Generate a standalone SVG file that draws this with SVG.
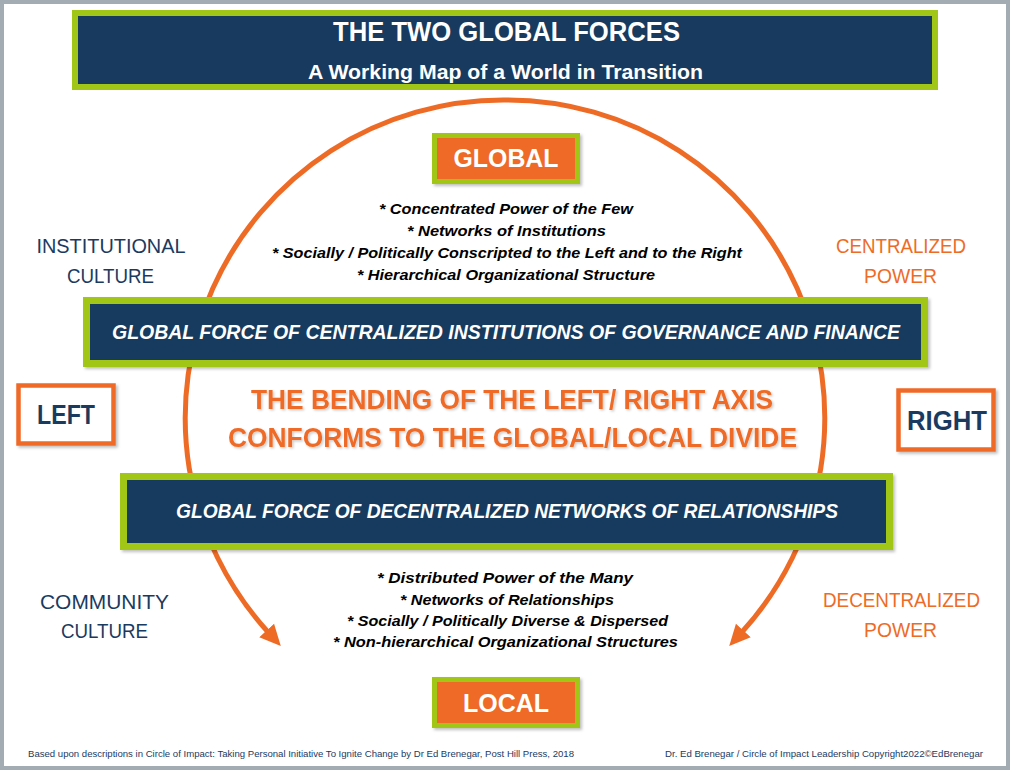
<svg xmlns="http://www.w3.org/2000/svg" width="1012" height="772" viewBox="0 0 1012 772">
  <defs>
    <style>
      .navybox { fill: #173A5E; stroke: #A2C617; stroke-width: 7; }
      .orangebox { fill: #EE6B26; stroke: #A2C617; stroke-width: 5; }
      .sidebox { fill: #FFFFFF; stroke: #EE6B26; stroke-width: 4.5; }
      .t { font-family: "Liberation Sans", Arial, sans-serif; text-anchor: middle; }
      .b { font-weight: bold; }
      .i { font-style: italic; }
      .w { fill: #FFFFFF; }
      .navy { fill: #1B3A5F; }
      .org { fill: #EE6B26; }
      .blk { fill: #000000; }
      .arc { fill: none; stroke: #EE6B26; stroke-width: 5; }
    </style>
    <filter id="sh" x="-10%" y="-10%" width="120%" height="130%">
      <feDropShadow dx="2" dy="2" stdDeviation="1.5" flood-color="#000" flood-opacity="0.25"/>
    </filter>
    <filter id="tsh" x="-5%" y="-20%" width="110%" height="140%">
      <feDropShadow dx="1.5" dy="1.5" stdDeviation="1" flood-color="#000" flood-opacity="0.2"/>
    </filter>
    <marker id="ah" markerUnits="userSpaceOnUse" markerWidth="24" markerHeight="24" refX="2" refY="0" viewBox="0 -11 24 22" orient="auto">
      <path d="M0,-10 L21,0 L0,10 z" fill="#EE6B26"/>
    </marker>
  </defs>

  <rect x="2" y="2" width="1006" height="766" fill="#FFFFFF" stroke="#A3ABB3" stroke-width="4"/>

  <g id="connectors">
    <path class="arc" d="M 505 100 A 318 318 0 0 0 268 632" marker-end="url(#ah)"/>
    <path class="arc" d="M 505 100 A 318 318 0 0 1 742 632" marker-end="url(#ah)"/>
  </g>

  <g id="title">
    <rect x="75" y="13" width="860" height="74" fill="#173A5E" stroke="#A2C617" stroke-width="6"/>
    <text class="t b w" x="506.5" y="41" font-size="27" textLength="347" lengthAdjust="spacingAndGlyphs">THE TWO GLOBAL FORCES</text>
    <text class="t b w" x="505.5" y="79" font-size="20" textLength="395" lengthAdjust="spacingAndGlyphs">A Working Map of a World in Transition</text>
  </g>

  <g id="global">
    <rect class="orangebox" x="434.5" y="135.5" width="143" height="46" filter="url(#sh)"/>
    <text class="t b w" x="506" y="167" font-size="25" textLength="105" lengthAdjust="spacingAndGlyphs">GLOBAL</text>
  </g>

  <g id="global-bullets">
    <text class="t b i blk" x="506" y="214" font-size="15.5" textLength="254" lengthAdjust="spacingAndGlyphs">* Concentrated Power of the Few</text>
    <text class="t b i blk" x="506.5" y="236" font-size="15.5" textLength="199" lengthAdjust="spacingAndGlyphs">* Networks of Institutions</text>
    <text class="t b i blk" x="507" y="258" font-size="15.5" textLength="470" lengthAdjust="spacingAndGlyphs">* Socially / Politically Conscripted to the Left and to the Right</text>
    <text class="t b i blk" x="506" y="280" font-size="15.5" textLength="298" lengthAdjust="spacingAndGlyphs">* Hierarchical Organizational Structure</text>
  </g>

  <g id="institutional-culture">
    <text class="t navy" x="111" y="253" font-size="20" textLength="149" lengthAdjust="spacingAndGlyphs">INSTITUTIONAL</text>
    <text class="t navy" x="110.5" y="283" font-size="20" textLength="87" lengthAdjust="spacingAndGlyphs">CULTURE</text>
  </g>

  <g id="centralized-power">
    <text class="t org" x="901" y="253" font-size="20" textLength="130" lengthAdjust="spacingAndGlyphs">CENTRALIZED</text>
    <text class="t org" x="900.5" y="283" font-size="20" textLength="73" lengthAdjust="spacingAndGlyphs">POWER</text>
  </g>

  <g id="centralized-force">
    <rect class="navybox" x="86.5" y="300.5" width="838" height="63" filter="url(#sh)"/>
    <text class="t b i w" x="506" y="339" font-size="21" textLength="788" lengthAdjust="spacingAndGlyphs">GLOBAL FORCE OF CENTRALIZED INSTITUTIONS OF GOVERNANCE AND FINANCE</text>
  </g>

  <g id="left">
    <rect class="sidebox" x="18.5" y="385.5" width="95" height="58" filter="url(#sh)"/>
    <text class="t b navy" x="66" y="424" font-size="27" textLength="58" lengthAdjust="spacingAndGlyphs">LEFT</text>
  </g>

  <g id="right">
    <rect class="sidebox" x="898.5" y="390.5" width="95" height="59" filter="url(#sh)"/>
    <text class="t b navy" x="947" y="430" font-size="27" textLength="80" lengthAdjust="spacingAndGlyphs">RIGHT</text>
  </g>

  <g id="bending" filter="url(#tsh)">
    <text class="t b org" x="512" y="409" font-size="28" textLength="522" lengthAdjust="spacingAndGlyphs">THE BENDING OF THE LEFT/ RIGHT AXIS</text>
    <text class="t b org" x="512.5" y="447" font-size="28" textLength="569" lengthAdjust="spacingAndGlyphs">CONFORMS TO THE GLOBAL/LOCAL DIVIDE</text>
  </g>

  <g id="decentralized-force">
    <rect class="navybox" x="123.5" y="476.5" width="766" height="70" filter="url(#sh)"/>
    <text class="t b i w" x="507" y="518" font-size="21" textLength="662" lengthAdjust="spacingAndGlyphs">GLOBAL FORCE OF DECENTRALIZED NETWORKS OF RELATIONSHIPS</text>
  </g>

  <g id="local-bullets">
    <text class="t b i blk" x="505" y="583" font-size="15.5" textLength="256" lengthAdjust="spacingAndGlyphs">* Distributed Power of the Many</text>
    <text class="t b i blk" x="507" y="605" font-size="15.5" textLength="214" lengthAdjust="spacingAndGlyphs">* Networks of Relationships</text>
    <text class="t b i blk" x="507.5" y="626" font-size="15.5" textLength="321" lengthAdjust="spacingAndGlyphs">* Socially / Politically Diverse &amp; Dispersed</text>
    <text class="t b i blk" x="505.5" y="647" font-size="15.5" textLength="345" lengthAdjust="spacingAndGlyphs">* Non-hierarchical Organizational Structures</text>
  </g>

  <g id="community-culture">
    <text class="t navy" x="104.5" y="609" font-size="20" textLength="129" lengthAdjust="spacingAndGlyphs">COMMUNITY</text>
    <text class="t navy" x="104.5" y="638" font-size="20" textLength="87" lengthAdjust="spacingAndGlyphs">CULTURE</text>
  </g>

  <g id="decentralized-power">
    <text class="t org" x="901.5" y="607" font-size="20" textLength="157" lengthAdjust="spacingAndGlyphs">DECENTRALIZED</text>
    <text class="t org" x="900.5" y="637" font-size="20" textLength="73" lengthAdjust="spacingAndGlyphs">POWER</text>
  </g>

  <g id="local">
    <rect class="orangebox" x="434.5" y="679.5" width="143" height="46" filter="url(#sh)"/>
    <text class="t b w" x="506" y="712" font-size="25" textLength="86" lengthAdjust="spacingAndGlyphs">LOCAL</text>
  </g>

  <g id="footer">
    <text class="navy" font-family="Liberation Sans, Arial, sans-serif" x="28" y="757" font-size="9.5" fill="#1B2A40" textLength="546" lengthAdjust="spacingAndGlyphs">Based upon descriptions in Circle of Impact: Taking Personal Initiative To Ignite Change by Dr Ed Brenegar, Post Hill Press, 2018</text>
    <text class="navy" font-family="Liberation Sans, Arial, sans-serif" x="665" y="757" font-size="9.5" fill="#1B2A40" textLength="318" lengthAdjust="spacingAndGlyphs">Dr. Ed Brenegar / Circle of Impact Leadership Copyright2022©EdBrenegar</text>
  </g>
</svg>
